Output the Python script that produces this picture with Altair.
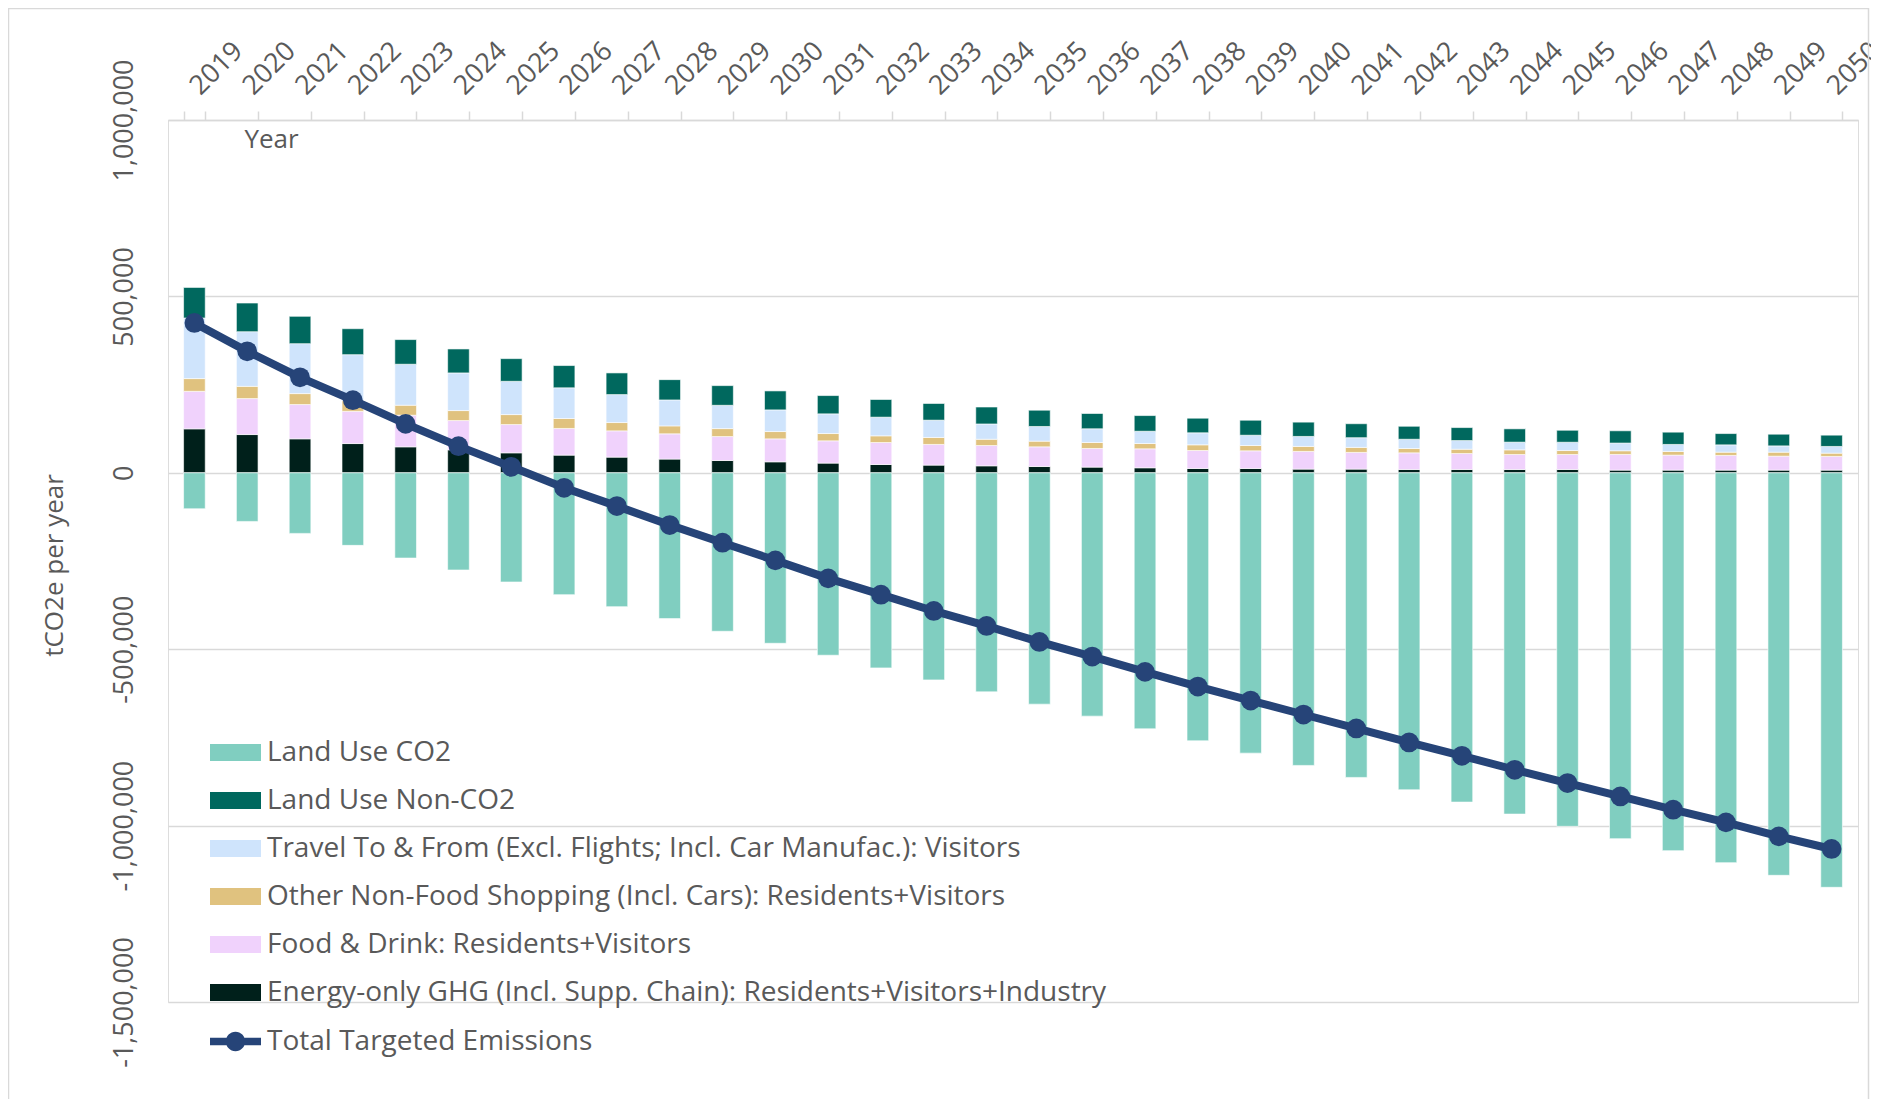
import altair as alt
import pandas as pd

years = [str(y) for y in range(2019, 2051)]

energy = [124600, 108400, 96300, 82900, 73600, 65100, 56600, 50100, 44400, 38800, 34800, 31100,
          27500, 23500, 21800, 19800, 17800, 16100, 14200, 12200, 12200, 10500, 10500, 9300,
          9300, 9300, 9300, 7600, 7600, 7600, 7600, 7600]
food = [106400, 101900, 97100, 91400, 89700, 83000, 80100, 75600, 74500, 71600, 67900, 65100,
        63100, 62300, 58600, 57500, 55800, 52900, 53800, 51000, 50100, 50100, 47300, 47300,
        45300, 42500, 42500, 44400, 42500, 41600, 39600, 38800]
shopping = [36000, 34800, 31100, 30300, 28300, 28300, 28300, 28300, 23500, 22600, 22600, 20700,
            20700, 19000, 19800, 17800, 16100, 17000, 15000, 16100, 15000, 14200, 14200, 12200,
            12200, 13300, 11300, 10500, 10500, 9300, 11300, 9300]
travel = [171800, 154900, 141600, 130200, 116100, 106700, 94300, 86900, 79300, 73600, 66000, 61400,
          55800, 52900, 49000, 43300, 41600, 38800, 34800, 34000, 29200, 28300, 27500, 26300,
          24600, 21800, 23500, 21800, 19800, 20700, 17800, 19000]
land_non_co2 = [86600, 81200, 77300, 73600, 69900, 67900, 64300, 63100, 61400, 57500, 55800, 53800,
                51800, 50100, 47300, 48100, 46100, 43300, 44400, 41600, 42500, 40500, 39600, 36800,
                36800, 37700, 34000, 34800, 34800, 32000, 33100, 32000]
land_co2 = [-101900, -137800, -171700, -205700, -241600, -275500, -309500, -345400, -379400,
            -413300, -449200, -483200, -517100, -553000, -587000, -620900, -655800, -689700,
            -725700, -759600, -794600, -829400, -863400, -898400, -933300, -967300, -1002100,
            -1037000, -1071000, -1105000, -1140900, -1174900]
total = [424700, 344300, 270700, 205800, 138700, 75500, 17000, -42500, -94400, -148100, -198200,
         -248200, -299200, -345400, -391600, -434100, -479400, -520900, -564300, -605800, -645500,
         -685100, -724700, -764400, -802100, -841700, -879500, -917300, -955000, -990900,
         -1030500, -1066300]

names = [
    "Land Use CO2",
    "Land Use Non-CO2",
    "Travel To & From (Excl. Flights; Incl. Car Manufac.): Visitors",
    "Other Non-Food Shopping (Incl. Cars): Residents+Visitors",
    "Food & Drink: Residents+Visitors",
    "Energy-only GHG (Incl. Supp. Chain): Residents+Visitors+Industry",
]
colors = ["#80CEC0", "#00685E", "#CFE4FC", "#E0C27F", "#F0D2FC", "#00201B"]
line_name = "Total Targeted Emissions"
line_color = "#264478"

# stacking order from zero outward
stack_series = [
    (names[5], energy, 0),
    (names[4], food, 1),
    (names[3], shopping, 2),
    (names[2], travel, 3),
    (names[1], land_non_co2, 4),
    (names[0], land_co2, 5),
]
rows = []
for name, vals, o in stack_series:
    for yr, v in zip(years, vals):
        rows.append({"Year": yr, "series": name, "value": v, "ord": o})
bars_df = pd.DataFrame(rows)
line_df = pd.DataFrame({"Year": years, "total": total, "lab": [line_name] * len(years)})

FONT = "Open Sans"
GREY = "#595959"
GRID = "#D9D9D9"

x_enc = alt.X(
    "Year:O",
    scale=alt.Scale(paddingInner=0.59, paddingOuter=0.295),
    axis=alt.Axis(
        orient="top", labelAngle=-45, labelAlign="left", labelBaseline="middle",
        labelPadding=21, tickSize=9, tickBand="extent", tickColor=GRID, tickWidth=1.5,
        domainColor=GRID, domainWidth=1.5, labelColor=GREY, labelFontSize=27, labelFont=FONT,
        labelOverlap=False, grid=False,
        title="Year", titleX=103, titleY=27, titleAlign="center", titleBaseline="alphabetic",
        titleAngle=0, titleFontSize=26, titleFontWeight="normal", titleColor=GREY, titleFont=FONT,
    ),
)

y_scale = alt.Scale(domain=[-1500000, 1000000], nice=False, zero=False)

bars = alt.Chart(bars_df).mark_bar(stroke="white", strokeWidth=0.6).encode(
    x=x_enc,
    y=alt.Y(
        "value:Q", stack="zero", scale=y_scale,
        axis=alt.Axis(
            values=[-1500000, -1000000, -500000, 0, 500000, 1000000],
            labelExpr="(datum.value < 0 ? '-' : '') + format(abs(datum.value), ',')",
            labelAngle=270, labelAlign="center", labelBaseline="alphabetic", labelPadding=36,
            ticks=False, domain=False, gridColor=GRID, gridWidth=1.5,
            labelFontSize=27, labelColor=GREY, labelFont=FONT,
            title="tCO2e per year", titleX=-106, titleY=445, titleAngle=270,
            titleAlign="center", titleBaseline="alphabetic", titleFontSize=26,
            titleFontWeight="normal", titleColor=GREY, titleFont=FONT,
        ),
    ),
    color=alt.Color(
        "series:N",
        scale=alt.Scale(domain=names, range=colors),
        legend=alt.Legend(
            orient="none", legendX=42, legendY=607, title=None,
            symbolType="M-1,-0.33L1,-0.33L1,0.33L-1,0.33Z", symbolSize=2601,
            symbolStrokeWidth=0, labelFontSize=28, labelColor=GREY, labelFont=FONT,
            labelOffset=6, rowPadding=8, labelLimit=1200,
        ),
    ),
    order=alt.Order("ord:Q"),
)

line = alt.Chart(line_df).mark_line(color=line_color, strokeWidth=8).encode(
    x=alt.X("Year:O"),
    y=alt.Y("total:Q", scale=y_scale),
)

points = alt.Chart(line_df).mark_point(filled=True, size=390, opacity=1).encode(
    x=alt.X("Year:O"),
    y=alt.Y("total:Q", scale=y_scale),
    color=alt.Color(
        "lab:N",
        scale=alt.Scale(domain=[line_name], range=[line_color]),
        legend=alt.Legend(
            orient="none", legendX=42, legendY=896, title=None,
            symbolType="M-1,-0.15L1,-0.15L1,0.15L-1,0.15Z M0.38,0A0.38,0.38,0,1,1,-0.38,0A0.38,0.38,0,1,1,0.38,0Z",
            symbolSize=2601, symbolStrokeWidth=0, labelFontSize=28, labelColor=GREY,
            labelFont=FONT, labelOffset=6, labelLimit=1200,
        ),
    ),
)

border = alt.Chart(pd.DataFrame({"a": [0]})).mark_rect(
    fill="transparent", stroke=GRID, strokeWidth=1.5
).encode(
    x=alt.value(-159.5), x2=alt.value(1700.5), y=alt.value(-111.5), y2=alt.value(1300)
)

chart = alt.layer(border, bars, line, points).resolve_scale(color="independent").properties(
    width=1690,
    height=882,
    autosize=alt.AutoSizeParams(type="none"),
    padding={"left": 160, "top": 112, "right": 13, "bottom": 97},
).configure_view(stroke=None).configure(font=FONT)

chart.save("out.html", embed_options={"renderer": "svg", "actions": False})
